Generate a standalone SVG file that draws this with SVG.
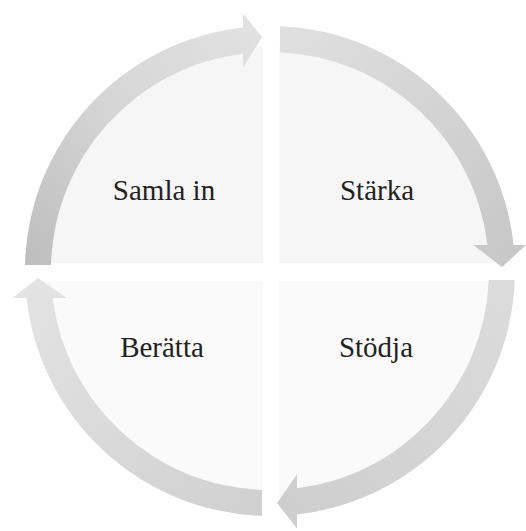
<svg xmlns="http://www.w3.org/2000/svg" width="526" height="531" viewBox="0 0 526 531">
  <defs>
    <linearGradient id="gTL" x1="0" y1="1" x2="1" y2="0">
      <stop offset="0" stop-color="#bdbdbd"/>
      <stop offset="0.5" stop-color="#d6d6d6"/>
      <stop offset="1" stop-color="#e2e2e2"/>
    </linearGradient>
    <linearGradient id="gTR" x1="0" y1="0" x2="1" y2="1">
      <stop offset="0" stop-color="#e0e0e0"/>
      <stop offset="1" stop-color="#c6c6c6"/>
    </linearGradient>
    <linearGradient id="gBR" x1="1" y1="0" x2="0" y2="1">
      <stop offset="0" stop-color="#dcdcdc"/>
      <stop offset="1" stop-color="#cdcdcd"/>
    </linearGradient>
    <linearGradient id="gBL" x1="1" y1="1" x2="0" y2="0">
      <stop offset="0" stop-color="#d0d0d0"/>
      <stop offset="1" stop-color="#e4e4e4"/>
    </linearGradient>
    <style>
      .lbl { font-family: "Liberation Serif", "DejaVu Serif", serif; font-size: 29px; fill: #222222; text-anchor: middle; }
      .panelTop { fill: #f6f6f6; }
      .panelBot { fill: #fafafa; }
    </style>
  </defs>
  <rect width="526" height="531" fill="#ffffff"/>

  <g id="samla-in">
    <path class="panelTop" d="M 263 263 L 263 46 A 225 225 0 0 0 45 263 Z"/>
    <text class="lbl" x="164" y="200">Samla in</text>
  </g>
  <g id="starka">
    <path class="panelTop" d="M 279 263 L 279 46 A 225 225 0 0 1 495 263 Z"/>
    <text class="lbl" x="377" y="200">Stärka</text>
  </g>
  <g id="stodja">
    <path class="panelBot" d="M 279 281 L 495 281 A 225 225 0 0 1 279 496 Z"/>
    <text class="lbl" x="376" y="357">Stödja</text>
  </g>
  <g id="beratta">
    <path class="panelBot" d="M 263 281 L 263 496 A 225 225 0 0 1 45 281 Z"/>
    <text class="lbl" x="162" y="357">Berätta</text>
  </g>

  <g id="connectors">
    <path fill="url(#gTL)" d="M 25 265 A 245 245 0 0 1 243 27.5 L 243 13.4 L 262 37 L 243 67.8 L 243 53.7 A 219 219 0 0 0 51 265 Z"/>
    <path fill="url(#gTR)" d="M 280 26.2 A 245 245 0 0 1 513.6 245 L 526 245 L 502 267 L 473.3 245 L 487.5 245 A 219 219 0 0 0 280 52.2 Z"/>
    <path fill="url(#gBR)" d="M 514.8 280 A 245 245 0 0 1 297 514.5 L 297 528.6 L 277 503 L 297 474.2 L 297 488.3 A 219 219 0 0 0 488.8 280 Z"/>
    <path fill="url(#gBL)" d="M 262 515.9 A 245 245 0 0 1 26.5 298 L 12.4 298 L 38 278 L 66.8 298 L 52.7 298 A 219 219 0 0 0 262 489.9 Z"/>
  </g>
</svg>
